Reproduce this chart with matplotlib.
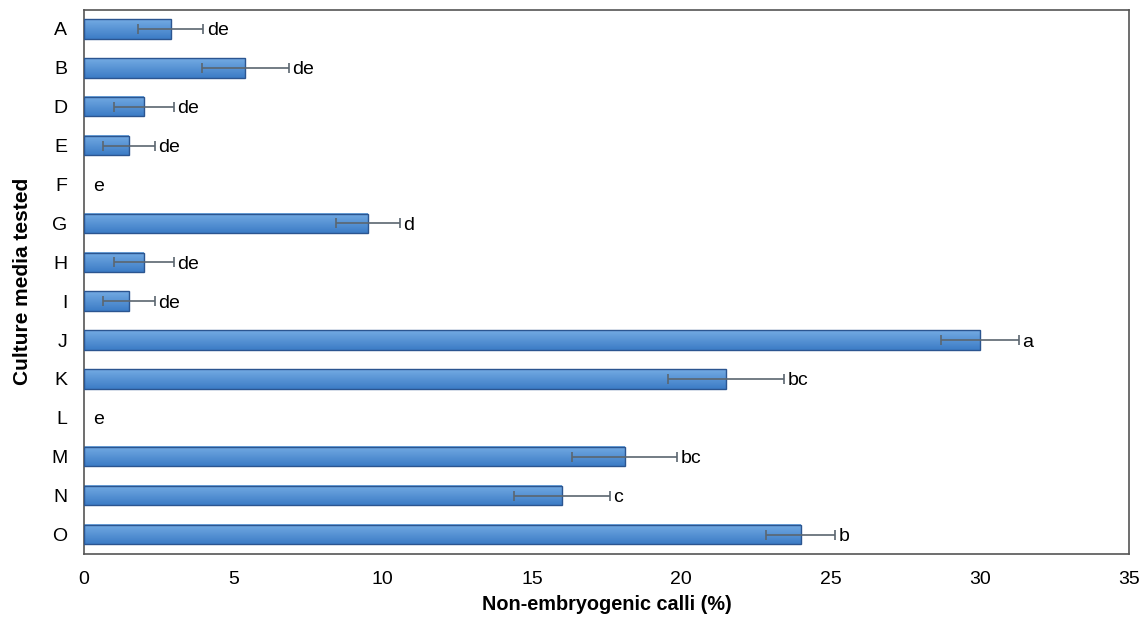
import numpy as np
import matplotlib
matplotlib.use('Agg')
import matplotlib.pyplot as plt
from matplotlib.colors import LinearSegmentedColormap

plt.rcParams['font.family'] = ['Liberation Sans', 'DejaVu Sans']

# Medios de cultivo y porcentaje de callos no embriogénicos
media = ['A', 'B', 'D', 'E', 'F', 'G', 'H', 'I', 'J', 'K', 'L', 'M', 'N', 'O']
values = [2.9, 5.4, 2.0, 1.5, 0.0, 9.5, 2.0, 1.5, 30.0, 21.5, 0.0, 18.1, 16.0, 24.0]
errors = [1.1, 1.45, 1.0, 0.87, 0.0, 1.07, 1.0, 0.87, 1.3, 1.95, 0.0, 1.75, 1.6, 1.15]
letters = ['de', 'de', 'de', 'de', 'e', 'd', 'de', 'de', 'a', 'bc', 'e', 'bc', 'c', 'b']

fig = plt.figure(figsize=(11.46, 6.27), dpi=100)
ax = fig.add_axes([0.0733, 0.1165, 0.9122, 0.8683])

y = np.arange(len(media))
h = 0.5
vals = np.array(values)
errs = np.array(errors)
mask = vals > 0

# Degradado vertical para las barras
cmap = LinearSegmentedColormap.from_list('azul', ['#74abe3', '#3c7cc6'])
grad = np.linspace(0, 1, 64).reshape(-1, 1)

bars = ax.barh(y[mask], vals[mask], height=h, facecolor='none', edgecolor='#2b5590',
               linewidth=1.0, zorder=3)
for b in bars:
    x0, y0 = b.get_x(), b.get_y()
    w, hh = b.get_width(), b.get_height()
    ax.imshow(grad, cmap=cmap, aspect='auto', extent=(x0, x0 + w, y0 + hh, y0),
              zorder=2, interpolation='bilinear')

# Barras de error solo para medios con callos
ax.errorbar(vals[mask], y[mask], xerr=errs[mask],
            fmt='none', ecolor='#5b6670', elinewidth=1.2, capsize=3.5,
            capthick=1.2, zorder=4)

for yi, v, e, t in zip(y, values, errors, letters):
    xt = v + e + 0.12 if v > 0 else 0.3
    ax.text(xt, yi, t, va='center_baseline', ha='left', fontsize=14, zorder=5)

ax.set_xlim(0, 35)
ax.set_ylim(len(media) - 0.5, -0.5)
ax.set_xticks(np.arange(0, 36, 5))
ax.set_yticks(y)
ax.set_yticklabels(media)
ax.tick_params(axis='both', length=0, labelsize=14, pad=12)

for s in ax.spines.values():
    s.set_color('#555555')
    s.set_linewidth(1.2)

ax.set_xlabel('Non-embryogenic calli (%)', fontsize=14.3, fontweight='bold', labelpad=5)
ax.set_ylabel('Culture media tested', fontsize=15, fontweight='bold', labelpad=14)

fig.savefig('out.png', dpi=100)
